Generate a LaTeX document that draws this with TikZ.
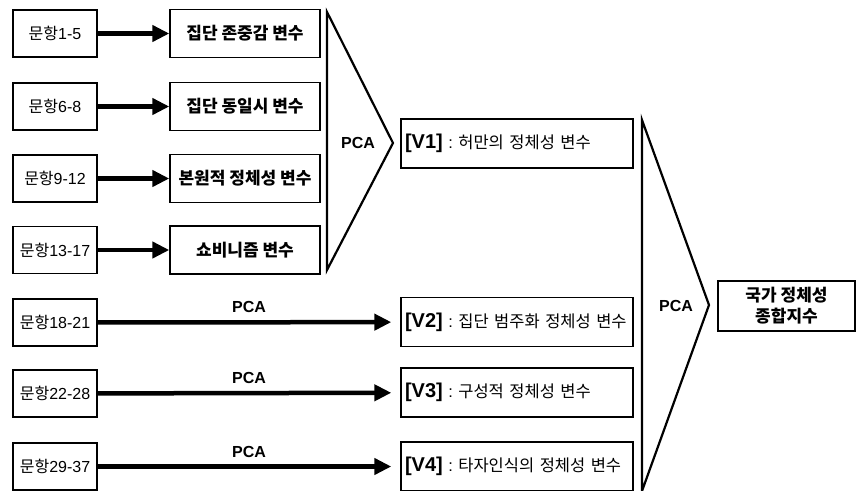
\documentclass[tikz,border=0pt]{standalone}
\usepackage{fontspec}
\setmainfont{Liberation Sans}
\newfontfamily\kr{Noto Sans CJK KR}
\usetikzlibrary{arrows.meta}
\begin{document}
\begin{tikzpicture}[x=1pt,y=-1pt,
 every node/.style={inner sep=0pt},
 qbox/.style={draw, line width=1.4pt, minimum width=84pt, minimum height=47pt, font=\fontsize{16}{19}\selectfont},
 mbox/.style={draw, line width=1.4pt, minimum width=150pt, minimum height=48pt, font=\fontsize{17}{20}\selectfont\bfseries},
 vbox/.style={draw, line width=1.4pt, minimum width=232pt, minimum height=49pt, text width=224pt, align=left, inner xsep=4pt, font=\fontsize{16.5}{19}\selectfont},
 fbox/.style={draw, line width=1.4pt, minimum width=137pt, minimum height=50pt, align=center, font=\fontsize{17}{21}\selectfont\bfseries},
 arr/.style={line width=4.5pt, -{Triangle[length=17pt,width=16pt]}},
 chev/.style={line width=2.2pt, line join=miter},
 pca/.style={font=\fontsize{16}{19}\selectfont\bfseries},
 vtag/.style={font=\fontsize{20}{24}\selectfont\bfseries}]
\useasboundingbox (0,0) rectangle (856,490);
\clip (0,0) rectangle (856,490);
% left boxes
\node[qbox] (q1) at (55,33.5) {{\kr 문항}1-5};
\node[qbox] (q2) at (55,106.5) {{\kr 문항}6-8};
\node[qbox] (q3) at (55,178.5) {{\kr 문항}9-12};
\node[qbox] (q4) at (55,250) {{\kr 문항}13-17};
\node[qbox] (q5) at (55,322.5) {{\kr 문항}18-21};
\node[qbox] (q6) at (55,393.5) {{\kr 문항}22-28};
\node[qbox] (q7) at (55,466.5) {{\kr 문항}29-37};
% middle boxes
\node[mbox] (m1) at (245,33.5) {\kr 집단 존중감 변수};
\node[mbox] (m2) at (245,106.5) {\kr 집단 동일시 변수};
\node[mbox] (m3) at (245,178.5) {\kr 본원적 정체성 변수};
\node[mbox] (m4) at (245,250) {\kr 쇼비니즘 변수};
% V boxes
\node[vbox] (v1) at (517,143.5) {{\fontsize{20}{24}\selectfont\bfseries [V1]}\ :\ {\kr 허만의 정체성 변수}};
\node[vbox] (v2) at (517,322) {{\fontsize{20}{24}\selectfont\bfseries [V2]}\ :\ {\kr 집단 범주화 정체성 변수}};
\node[vbox] (v3) at (517,392.5) {{\fontsize{20}{24}\selectfont\bfseries [V3]}\ :\ {\kr 구성적 정체성 변수}};
\node[vbox] (v4) at (517,466.5) {{\fontsize{20}{24}\selectfont\bfseries [V4]}\ :\ {\kr 타자인식의 정체성 변수}};
% final box
\node[fbox] (fin) at (786.5,306) {\kr 국가 정체성\\\kr 종합지수};
% arrows
\draw[arr] (q1) -- (m1);
\draw[arr] (q2) -- (m2);
\draw[arr] (q3) -- (m3);
\draw[arr] (q4) -- (m4);
\draw[arr, shorten >=9pt] (q5) -- node[pca, midway, above=7pt] (p5) {PCA} (v2);
\draw[arr, shorten >=9pt] (q6) -- node[pca, midway, above=7pt] (p6) {PCA} (v3);
\draw[arr, shorten >=9pt] (q7) -- node[pca, midway, above=7pt] (p7) {PCA} (v4);
% chevrons
\coordinate (c1t) at (327,12);
\coordinate (c1a) at (393,143);
\coordinate (c1b) at (327,270);
\draw[chev] (c1t) -- (c1a) -- (c1b) -- cycle;
\node[pca] (pc1) at (358,143) {PCA};
\coordinate (c2t) at (642,120);
\coordinate (c2a) at (709,305);
\coordinate (c2b) at (642,491);
\draw[chev] (c2t) -- (c2a) -- (c2b) -- cycle;
\node[pca] (pc2) at (676,306) {PCA};
\end{tikzpicture}
\end{document}
